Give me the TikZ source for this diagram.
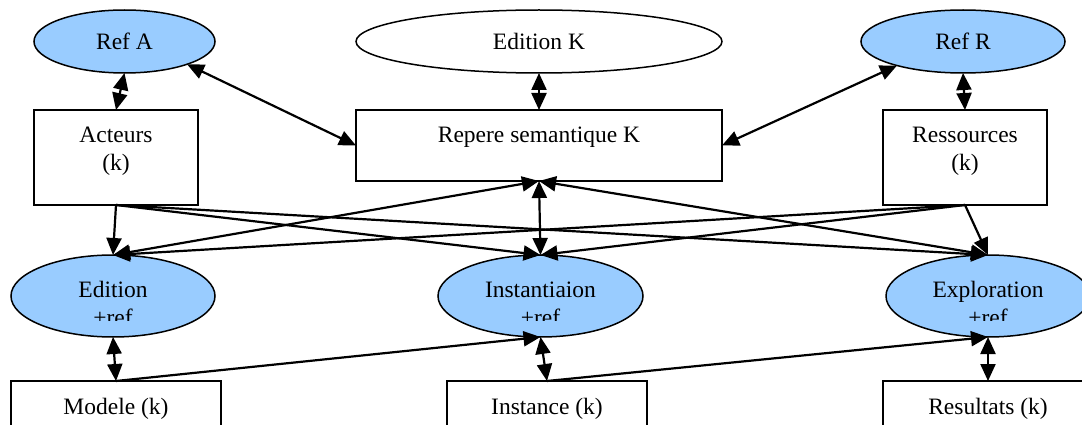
\documentclass[tikz,border=0pt]{standalone}
\usepackage{fontspec}
\setmainfont{Liberation Serif}
\usetikzlibrary{arrows.meta,shapes.geometric}
\definecolor{refblue}{RGB}{153,204,255}
\begin{document}
\begin{tikzpicture}[x=1pt,y=-1pt,
  ell/.style={ellipse,draw,line width=1.5pt,inner sep=0pt,outer sep=0pt,fill=refblue,font=\fontsize{23.5}{28}\selectfont},
  wel/.style={ell,fill=white},
  box/.style={rectangle,draw,line width=1.5pt,inner sep=0pt,outer sep=0pt,fill=white},
  txt/.style={font=\fontsize{23.5}{28}\selectfont,inner sep=0pt,anchor=base},
  con/.style={line width=2.2pt,-{Triangle[length=17pt,width=15pt]}},
  bi/.style={line width=2.2pt,{Triangle[length=17pt,width=15pt]}-{Triangle[length=17pt,width=15pt]}}]
\useasboundingbox (0,0) rectangle (1082,425);
\clip (0,0) rectangle (1082,425);
% top row
\node[ell,minimum width=181pt,minimum height=63pt] (refA) at (124.5,41.5) {Ref A};
\node[wel,minimum width=366pt,minimum height=63pt] (editK) at (539,41.5) {Edition K};
\node[ell,minimum width=204pt,minimum height=63pt] (refR) at (963,41.5) {Ref R};
% second row
\node[box,minimum width=164pt,minimum height=95pt] (acteurs) at (116,157.5) {};
\node[box,minimum width=366pt,minimum height=71pt] (repere) at (539,145.5) {};
\node[box,minimum width=164pt,minimum height=95pt] (ressources) at (965,157.5) {};
\node[txt] (acteursT1) at (116,143) {Acteurs};
\node[txt] (acteursT2) at (116,171) {(k)};
\node[txt] (repereT) at (539,143) {Repere semantique K};
\node[txt] (ressourcesT1) at (965,143) {Ressources};
\node[txt] (ressourcesT2) at (965,171) {(k)};
% third row
\node[ell,minimum width=204pt,minimum height=82pt] (edition) at (113,296) {};
\node[ell,minimum width=205pt,minimum height=82pt] (instant) at (540.5,296) {};
\node[ell,minimum width=204pt,minimum height=82pt] (explor) at (988,296) {};
\begin{scope}
\clip (0,0) rectangle (1082,320.5);
\node[txt] (editionT1) at (113,297) {Edition};
\node[txt] (editionT2) at (113,325) {+ref};
\node[txt] (instantT1) at (540.5,297) {Instantiaion};
\node[txt] (instantT2) at (540.5,325) {+ref};
\node[txt] (explorT1) at (988,297) {Exploration};
\node[txt] (explorT2) at (988,325) {+ref};
\end{scope}
% bottom row
\node[box,minimum width=210pt,minimum height=60pt] (modele) at (116,411) {};
\node[box,minimum width=200pt,minimum height=60pt] (instance) at (547,411) {};
\node[box,minimum width=210pt,minimum height=60pt] (resultats) at (988,411) {};
\node[txt] (modeleT) at (116,414) {Modele (k)};
\node[txt] (instanceT) at (547,414) {Instance (k)};
\node[txt] (resultatsT) at (988,414) {Resultats (k)};
% connectors
\draw[bi] (refA.south) -- (acteurs.north);
\draw[bi] (refA.-20) -- (repere.west);
\draw[bi] (editK.south) -- (repere.north);
\draw[bi] (refR.200) -- (repere.east);
\draw[bi] (refR.south) -- (ressources.north);
\draw[con] (acteurs.south) -- (edition.north);
\draw[con] (acteurs.south) -- (instant.north);
\draw[con] (acteurs.south) -- (explor.north);
\draw[con] (ressources.south) -- (edition.north);
\draw[con] (ressources.south) -- (instant.north);
\draw[con] (ressources.south) -- (explor.north);
\draw[bi] (repere.south) -- (edition.north);
\draw[bi] (repere.south) -- (instant.north);
\draw[bi] (repere.south) -- (explor.north);
\draw[bi] (edition.south) -- (modele.north);
\draw[con] (modele.north) -- (instant.south);
\draw[bi] (instant.south) -- (instance.north);
\draw[con] (instance.north) -- (explor.south);
\draw[bi] (explor.south) -- (resultats.north);
\end{tikzpicture}
\end{document}
